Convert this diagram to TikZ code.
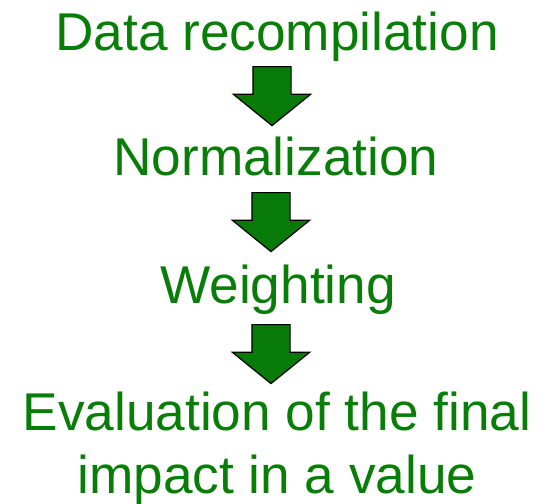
\documentclass[tikz,border=0pt]{standalone}
\usepackage{fontspec}
\setmainfont{Liberation Sans}
\usetikzlibrary{shapes.arrows}
\definecolor{stepgreen}{RGB}{8,126,8}
\definecolor{arrowgreen}{RGB}{8,122,8}
\tikzset{
  steptext/.style={text=stepgreen, font=\fontsize{53.2}{63}\selectfont, align=center, inner sep=0pt},
  blockarr/.style={single arrow, shape border rotate=270, draw=black, fill=arrowgreen, line width=1.2pt,
    minimum height=59pt, inner sep=18.5pt, single arrow head extend=19.5pt, single arrow tip angle=102}
}
\begin{document}
\begin{tikzpicture}[x=1pt, y=1pt]
        \useasboundingbox (0,0) rectangle (558,-504);

        % Steps
        \node[steptext, anchor=base] (data) at (277,-50) {Data recompilation};
        \node[steptext, anchor=base] (norm) at (276,-175) {Normalization};
        \node[steptext, anchor=base] (weight) at (278,-303) {Weighting};
        \node[steptext, anchor=base] (eval) at (277,-493) {Evaluation of the final\\impact in a value};

        % Arrows between steps
        \node[blockarr, anchor=tail] (arr1) at (272,-66) {};
        \node[blockarr, anchor=tail] (arr2) at (271,-192) {};
        \node[blockarr, anchor=tail] (arr3) at (271,-324) {};
\end{tikzpicture}
\end{document}
